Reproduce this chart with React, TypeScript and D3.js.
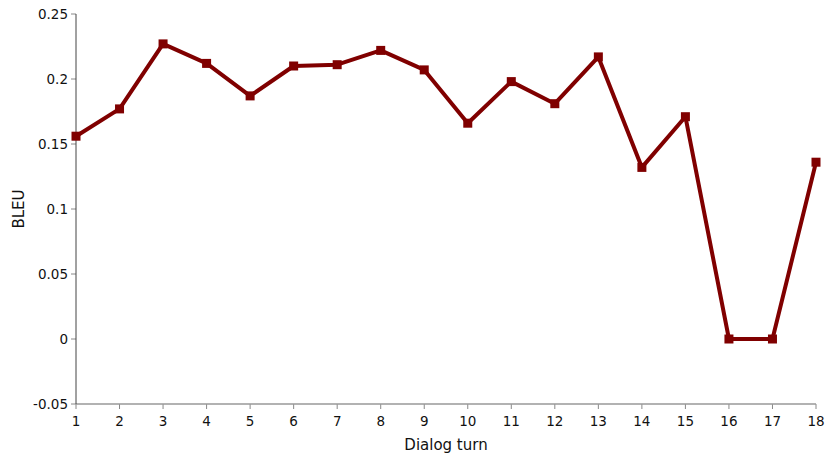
import React from "react";
import * as d3 from "d3";

const turns = [1, 2, 3, 4, 5, 6, 7, 8, 9, 10, 11, 12, 13, 14, 15, 16, 17, 18];
const bleu = [0.156, 0.177, 0.227, 0.212, 0.187, 0.21, 0.211, 0.222, 0.207, 0.166, 0.198, 0.181, 0.217, 0.132, 0.171, 0, 0, 0.136];
const yTicks = [-0.05, 0, 0.05, 0.1, 0.15, 0.2, 0.25];
const xLabel = "Dialog turn";
const yLabel = "BLEU";

const W = 830;
const H = 462;
const M = { left: 76, right: 14, top: 14, bottom: 58 };

export default function App() {
  const x = d3.scaleLinear().domain([1, 18]).range([M.left, W - M.right]);
  const y = d3.scaleLinear().domain([-0.05, 0.25]).range([H - M.bottom, M.top]);
  const line = d3
    .line<number>()
    .x((_, i) => x(turns[i]))
    .y((d) => y(d));
  const fmt = (v: number) => String(+v.toFixed(2));
  const font = "'DejaVu Sans', Verdana, sans-serif";
  const y0 = y(-0.05);
  return (
    <svg
      width={W}
      height={H}
      style={{ position: "absolute", left: 0, top: 0, background: "#fff" }}
      fontFamily={font}
    >
      {yTicks.map((t) => (
        <g key={"y" + t}>
          <line x1={x(1) - 5} x2={x(1)} y1={y(t)} y2={y(t)} stroke="#888" strokeWidth={1} />
          <text x={x(1) - 8} y={y(t)} dy="0.36em" textAnchor="end" fontSize={13.5} fill="#111">
            {fmt(t)}
          </text>
        </g>
      ))}
      {turns.map((t) => (
        <g key={"x" + t}>
          <line x1={x(t)} x2={x(t)} y1={y0} y2={y0 + 5} stroke="#888" strokeWidth={1} />
          <text x={x(t)} y={y0 + 22} textAnchor="middle" fontSize={13.5} fill="#111">
            {t}
          </text>
        </g>
      ))}
      <line x1={x(1)} x2={x(18)} y1={y0} y2={y0} stroke="#999" strokeWidth={1.5} />
      <line x1={x(1)} x2={x(1)} y1={y(0.25)} y2={y0} stroke="#444" strokeWidth={1} />
      <path d={line(bleu) || ""} fill="none" stroke="#800000" strokeWidth={4} strokeLinejoin="round" />
      {bleu.map((v, i) => (
        <rect key={"m" + i} x={x(turns[i]) - 4.5} y={y(v) - 4.5} width={9} height={9} fill="#800000" />
      ))}
      <text x={(x(1) + x(18)) / 2} y={450} textAnchor="middle" fontSize={15} fill="#111">
        {xLabel}
      </text>
      <text
        transform={`translate(24, ${(y(0.25) + y0) / 2}) rotate(-90)`}
        textAnchor="middle"
        fontSize={15}
        fill="#111"
      >
        {yLabel}
      </text>
    </svg>
  );
}
